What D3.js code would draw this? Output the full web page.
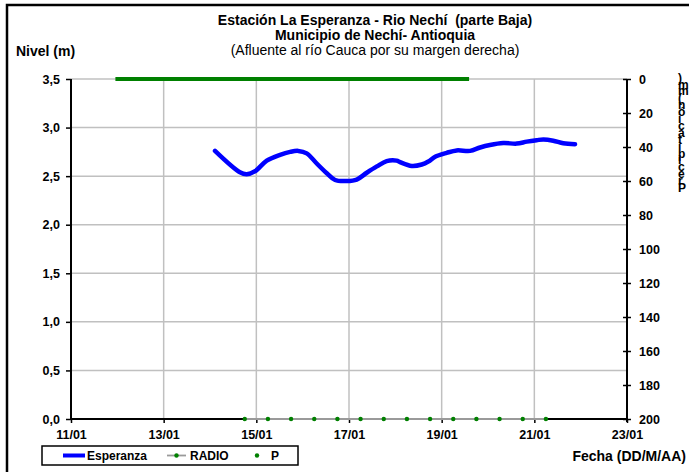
<!DOCTYPE html>
<html>
<head>
<meta charset="utf-8">
<script src="https://cdn.jsdelivr.net/npm/d3@7"></script>
<style>
  html, body { margin: 0; padding: 0; background: #fff; }
  svg { display: block; font-family: "Liberation Sans", Arial, sans-serif; }
</style>
</head>
<body>
<svg id="chart" width="689" height="472"></svg>
<script>
// ---------- DATA ----------
const titleLines = ["Estación La Esperanza - Rio Nechí  (parte Baja)", "Municipio de Nechí- Antioquia", "(Afluente al río Cauca por su margen derecha)"];
const xTickLabels = ["11/01", "13/01", "15/01", "17/01", "19/01", "21/01", "23/01"];
const yLeftTicks = [0, 0.5, 1.0, 1.5, 2.0, 2.5, 3.0, 3.5];
const yRightTicks = [0, 20, 40, 60, 80, 100, 120, 140, 160, 180, 200];

// Esperanza water level (m)
const esperanzaTimes = ["2011-01-14T02:36", "2011-01-14T15:30", "2011-01-14T19:00", "2011-01-14T23:18", "2011-01-15T05:24",
  "2011-01-15T12:18", "2011-01-15T17:30", "2011-01-15T21:42", "2011-01-16T02:06", "2011-01-16T07:18",
  "2011-01-16T12:30", "2011-01-16T16:48", "2011-01-16T22:48", "2011-01-17T04:00", "2011-01-17T09:12",
  "2011-01-17T14:24", "2011-01-17T19:30", "2011-01-18T00:42", "2011-01-18T02:24", "2011-01-18T08:30",
  "2011-01-18T13:42", "2011-01-18T17:06", "2011-01-18T20:36", "2011-01-19T02:36", "2011-01-19T07:48",
  "2011-01-19T14:42", "2011-01-19T19:54", "2011-01-20T01:00", "2011-01-20T07:54", "2011-01-20T14:54",
  "2011-01-20T20:06", "2011-01-21T01:12", "2011-01-21T04:42", "2011-01-21T09:48", "2011-01-21T15:00",
  "2011-01-21T21:06"];
const esperanzaValues = [2.76, 2.54, 2.52, 2.55, 2.66,
  2.72, 2.75, 2.76, 2.735, 2.63,
  2.53, 2.46, 2.45, 2.465, 2.535,
  2.60, 2.655, 2.66, 2.645, 2.605,
  2.62, 2.65, 2.70, 2.74, 2.765,
  2.76, 2.795, 2.82, 2.84, 2.835,
  2.855, 2.87, 2.878, 2.865, 2.838,
  2.828];

// RADIO reports (m)
const radioTimes = ["2011-01-14T18:00", "2011-01-15T06:00", "2011-01-15T18:00", "2011-01-16T06:00", "2011-01-16T18:00",
  "2011-01-17T06:00", "2011-01-17T18:00", "2011-01-18T06:00", "2011-01-18T18:00", "2011-01-19T06:00",
  "2011-01-19T18:00", "2011-01-20T06:00", "2011-01-20T18:00", "2011-01-21T06:00"];
const radioValues = [0, 0, 0, 0, 0, 0, 0, 0, 0, 0, 0, 0, 0, 0];

// Precipitation P (mm), right reversed axis
const pTimes = ["2011-01-11T23:00", "2011-01-19T14:12"];
const pValues = [0, 0];

// ---------- LAYOUT ----------
const svg = d3.select("#chart");
const parseT = d3.isoParse;
const parseTick = d3.timeParse("%d/%m/%Y");

const x = d3.scaleTime()
  .domain([parseTick("11/01/2011"), parseTick("23/01/2011")])
  .range([71, 627]);
const yL = d3.scaleLinear().domain([0, 3.5]).range([419, 79]);
const yR = d3.scaleLinear().domain([0, 200]).range([79, 419]);

const tickDates = xTickLabels.map(s => parseTick(s + "/2011"));
const fmtComma = v => d3.format(".1f")(v).replace(".", ",");

// outer frame (left and top edges)
svg.append("path").attr("d", "M7,472 V5 H689").attr("fill", "none").attr("stroke", "#000").attr("stroke-width", 2.5);

// gridlines
const grid = svg.append("g").attr("stroke", "#c0c0c0").attr("stroke-width", 1.5);
grid.selectAll("line.h").data(yLeftTicks.filter(v => v > 0)).enter().append("line")
  .attr("x1", x.range()[0]).attr("x2", x.range()[1])
  .attr("y1", d => yL(d)).attr("y2", d => yL(d));
grid.selectAll("line.v").data(tickDates.slice(1, -1)).enter().append("line")
  .attr("x1", d => x(d)).attr("x2", d => x(d))
  .attr("y1", yL(3.5)).attr("y2", yL(0));

// axes
const axL = d3.axisLeft(yL).tickValues(yLeftTicks).tickSize(5).tickFormat(fmtComma);
const gL = svg.append("g").attr("transform", "translate(71,0)").call(axL);
const axR = d3.axisRight(yR).tickValues(yRightTicks).tickSize(4).tickFormat(d3.format("d"));
const gR = svg.append("g").attr("transform", "translate(627,0)").call(axR);
const axB = d3.axisBottom(x).tickValues(tickDates).tickSize(4).tickFormat(d3.timeFormat("%d/%m"));
const gB = svg.append("g").attr("transform", "translate(0,419)").call(axB);

[gL, gR, gB].forEach(g => {
  g.select(".domain").attr("stroke", "#000").attr("stroke-width", 2);
  g.selectAll(".tick line").attr("stroke", "#000").attr("stroke-width", 1.5);
  g.selectAll(".tick text").attr("fill", "#000").attr("font-size", 12.5).attr("font-weight", "bold")
    .attr("font-family", "'Liberation Sans', Arial, sans-serif");
});
gL.select(".domain").attr("d", "M0,419V79");
gR.select(".domain").attr("d", "M0,79V422");
gR.selectAll(".tick line").attr("x1", -4).attr("x2", 4);
gL.selectAll(".tick text").attr("x", -11);
gR.selectAll(".tick text").attr("x", 12);
gB.select(".domain").attr("d", "M71,0H627");
gB.selectAll(".tick text").attr("y", 11);

// P series (green thick band at top)
const pData = pTimes.map((t, i) => ({ t: parseT(t), v: pValues[i] }));
svg.append("path").datum(pData)
  .attr("d", d3.line().x(d => x(d.t)).y(d => yR(d.v)))
  .attr("fill", "none").attr("stroke", "#008000").attr("stroke-width", 4);

// RADIO series
const radioData = radioTimes.map((t, i) => ({ t: parseT(t), v: radioValues[i] }));
svg.append("path").datum(radioData)
  .attr("d", d3.line().x(d => x(d.t)).y(d => yL(d.v)))
  .attr("fill", "none").attr("stroke", "#9a9a9a").attr("stroke-width", 1.8);
svg.selectAll("circle.radio").data(radioData).enter().append("circle")
  .attr("cx", d => x(d.t)).attr("cy", d => yL(d.v)).attr("r", 2.2).attr("fill", "#008000");

// Esperanza series
const espData = esperanzaTimes.map((t, i) => ({ t: parseT(t), v: esperanzaValues[i] }));
svg.append("path").datum(espData)
  .attr("d", d3.line().x(d => x(d.t)).y(d => yL(d.v)).curve(d3.curveCatmullRom.alpha(0.5)))
  .attr("fill", "none").attr("stroke", "#0000ff").attr("stroke-width", 4.5)
  .attr("stroke-linejoin", "round").attr("stroke-linecap", "round");

// titles
titleLines.forEach((s, i) => {
  svg.append("text").attr("text-anchor", "middle").attr("fill", "#000").attr("font-size", 14)
    .style("white-space", "pre")
    .attr("x", 375).attr("y", 24.5 + i * 15.3)
    .attr("font-weight", i < 2 ? "bold" : "normal").text(s);
});

svg.append("text").attr("x", 16).attr("y", 56).attr("font-size", 14).attr("font-weight", "bold").text("Nivel (m)");
svg.append("text").attr("x", 686).attr("y", 461).attr("text-anchor", "end")
  .attr("font-size", 14).attr("font-weight", "bold").text("Fecha (DD/M/AA)");

// stacked right-axis label (bottom-to-top, upright characters), one text with per-glyph positions
const rLabel = "Precipitación(mm)";
const rYs = rLabel.split("").map((c, i) => 192 - i * 6.9);
svg.append("text").attr("font-size", 12).attr("font-weight", "bold").attr("fill", "#000")
  .attr("x", rLabel.split("").map(() => 678).join(" "))
  .attr("y", rYs.join(" "))
  .text(rLabel);

// legend
const lg = svg.append("g");
lg.append("rect").attr("x", 42).attr("y", 446).attr("width", 256).attr("height", 19)
  .attr("fill", "#fff").attr("stroke", "#000").attr("stroke-width", 1.5);
lg.append("line").attr("x1", 63).attr("x2", 85).attr("y1", 455.5).attr("y2", 455.5)
  .attr("stroke", "#0000ff").attr("stroke-width", 4);
lg.append("text").attr("x", 87).attr("y", 460).attr("font-size", 12).attr("font-weight", "bold").text("Esperanza");
lg.append("line").attr("x1", 167).attr("x2", 186).attr("y1", 455.5).attr("y2", 455.5)
  .attr("stroke", "#9a9a9a").attr("stroke-width", 1.8);
lg.append("circle").attr("cx", 176.5).attr("cy", 455.5).attr("r", 2.2).attr("fill", "#008000");
lg.append("text").attr("x", 190).attr("y", 460).attr("font-size", 12).attr("font-weight", "bold").text("RADIO");
lg.append("circle").attr("cx", 257).attr("cy", 455.5).attr("r", 2.2).attr("fill", "#008000");
lg.append("text").attr("x", 271).attr("y", 460).attr("font-size", 12).attr("font-weight", "bold").text("P");
</script>
</body>
</html>
